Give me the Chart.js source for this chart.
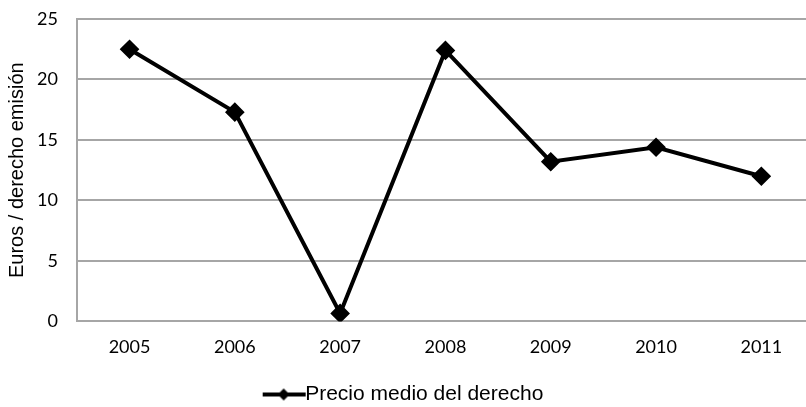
<!DOCTYPE html>
<html>
<head>
<meta charset="utf-8">
<script src="https://cdn.jsdelivr.net/npm/chart.js@4/dist/chart.umd.min.js"></script>
<style>
  html, body { margin: 0; padding: 0; background: #fff; overflow: hidden; }
  canvas { display: block; }
</style>
</head>
<body>
<canvas id="c" width="816" height="407"></canvas>
<script>
'use strict';
// Precio medio del derecho de emisión, euros
const years = ['2005', '2006', '2007', '2008', '2009', '2010', '2011'];
const precio = [22.5, 17.3, 0.66, 22.4, 13.2, 14.4, 12.0];
const yTicks = [0, 5, 10, 15, 20, 25];

const TICK_FONT = 'Lato, "Open Sans", sans-serif';
const ARIAL = '"Liberation Sans", Arial, sans-serif';
const X_PAD = 15, Y_PAD = 19;

// legend swatch: line with diamond marker, shifted right so it meets the text
function legendSwatch() {
  const cv = document.createElement('canvas');
  cv.width = 64; cv.height = 14;
  const g = cv.getContext('2d');
  g.strokeStyle = '#000'; g.lineWidth = 4;
  g.beginPath(); g.moveTo(12, 7); g.lineTo(55, 7); g.stroke();
  g.fillStyle = '#000';
  g.beginPath(); g.moveTo(33, 1); g.lineTo(39, 7); g.lineTo(33, 13); g.lineTo(27, 7); g.closePath(); g.fill();
  return cv;
}
const swatch = legendSwatch();

new Chart(document.getElementById('c').getContext('2d'), {
  type: 'line',
  data: {
    labels: years,
    datasets: [{
      label: 'Precio medio del derecho',
      data: precio,
      borderColor: '#000',
      backgroundColor: '#000',
      borderWidth: 4,
      pointStyle: 'rectRot',
      pointRadius: 7,
      pointHoverRadius: 7,
      tension: 0,
    }],
  },
  options: {
    responsive: false, animation: false, devicePixelRatio: 1,
    // canvas is wider than the picture: the plot runs past its right edge, as in the original
    layout: { autoPadding: false, padding: { top: 19, left: 0, right: 2, bottom: -8 } },
    scales: {
      x: {
        offset: true,
        grid: { display: false, drawTicks: false, offset: true },
        border: { display: true, color: '#a6a6a6', width: 2 },
        ticks: { color: '#000', font: { family: TICK_FONT, size: 18 }, padding: X_PAD },
        afterFit: (ax) => { ax.height += 11; ax.paddingLeft = 0; ax.paddingRight = 0; },
      },
      y: {
        min: 0, max: 25,
        afterBuildTicks: (ax) => { ax.ticks = yTicks.map(v => ({ value: v })); },
        grid: { color: '#a6a6a6', lineWidth: 2, drawTicks: false },
        border: { display: true, color: '#a6a6a6', width: 2 },
        ticks: { color: '#000', font: { family: TICK_FONT, size: 18 }, padding: Y_PAD },
        title: { display: true, text: 'Euros / derecho emisión', color: '#000', font: { family: ARIAL, size: 20 }, padding: { top: 5, bottom: 8 } },
        // chart.js reserves the tick padding twice and pads the top for the label; undo both
        afterFit: (ax) => { ax.width -= Y_PAD; ax.paddingTop = 0; ax.paddingBottom = 0; },
      },
    },
    plugins: {
      tooltip: { enabled: false },
      legend: {
        position: 'bottom',
        labels: {
          color: '#000', font: { family: ARIAL, size: 21 },
          usePointStyle: true, pointStyleWidth: 24, padding: 0,
          generateLabels: (chart) => chart.data.datasets.map((ds, i) => ({
            text: ds.label, pointStyle: swatch, fontColor: '#000',
            strokeStyle: '#000', fillStyle: '#000', lineWidth: 0, datasetIndex: i, hidden: false,
          })),
        },
      },
    },
  },
});
</script>
</body>
</html>
